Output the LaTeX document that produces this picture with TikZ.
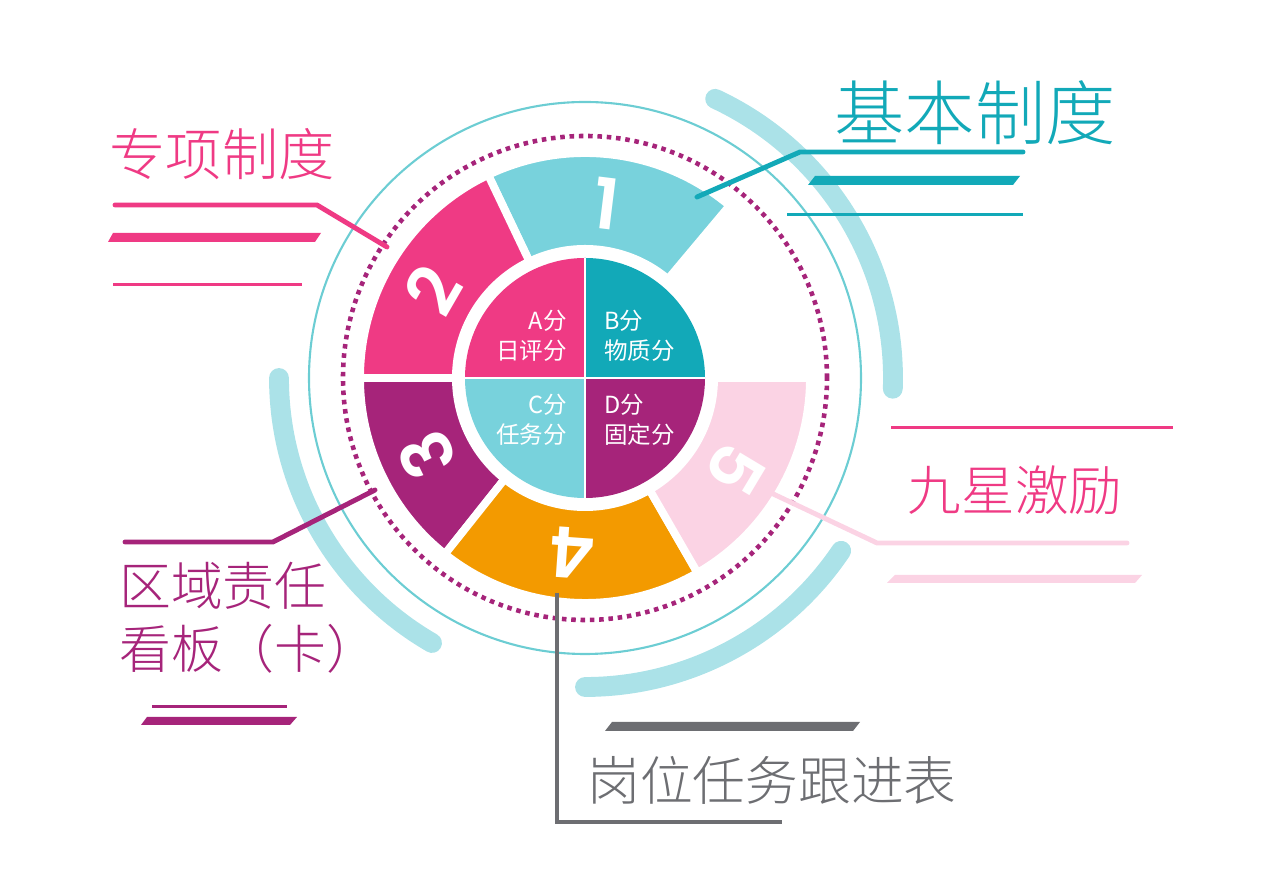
\documentclass[tikz,border=0pt]{standalone}
\usepackage{fontspec}
\IfFontExistsTF{Noto Sans CJK SC Light}
  {\setmainfont{Noto Sans CJK SC Light}}
  {\setmainfont{Noto Sans CJK SC}}
\newfontfamily\regcjk{Noto Sans CJK SC}
\IfFontExistsTF{Poppins SemiBold}
  {\newfontfamily\numfont{Poppins SemiBold}}
  {\newfontfamily\numfont{Poppins}[FakeBold=2]}
\usepackage{xcolor}
\usepackage{tikz}
\usetikzlibrary{calc}

\definecolor{tealA}{HTML}{12A9B8}
\definecolor{tealB}{HTML}{78D2DC}
\definecolor{tealC}{HTML}{ABE2E8}
\definecolor{tealD}{HTML}{6CCDD3}
\definecolor{pinkA}{HTML}{EF3A84}
\definecolor{pinkB}{HTML}{FBD3E4}
\definecolor{purpleA}{HTML}{A6247A}
\definecolor{orangeA}{HTML}{F39A00}
\definecolor{greyA}{HTML}{6D6E72}

\begin{document}
\begin{tikzpicture}[x=0.02cm,y=0.02cm,
  sector/.style={fill=#1,draw=white,line width=4.5pt,line join=miter},
  digit/.style={text=white,font=\numfont\fontsize{40}{40}\selectfont},
  ring/.style={draw=tealC,line width=11.3pt,line cap=round},
  lead/.style={draw=#1,line width=2.8pt,line cap=round,line join=round},
  hair/.style={draw=#1,line width=1.7pt},
  bigtxt/.style={text=#1,font=\fontsize{30}{36}\selectfont},
  score/.style={text=white,font=\regcjk\fontsize{13.4}{17}\selectfont}]

	\useasboundingbox (0,0) rectangle (1272,892);
	\coordinate (c) at (585,514);

	% outer rings
	\draw[ring] ($(c)+(65:308)$) arc[start angle=65,end angle=-2,radius=308];
	\draw[ring] ($(c)+(180:306)$) arc[start angle=180,end angle=240,radius=306];
	\draw[ring] ($(c)+(270:309)$) arc[start angle=270,end angle=326,radius=309];
	\draw[tealD,line width=1.2pt] (c) circle[radius=276];
	\draw[purpleA,line width=2.6pt,dash pattern=on 2.6pt off 2.7pt] (c) circle[radius=242];

	% five sectors
	\foreach \a/\b/\col/\n/\m in {50/115.5/tealB/1/83,115.5/180/pinkA/2/150,
	    180/231.5/purpleA/3/206,231.5/300/orangeA/4/266,300/360/pinkB/5/329}{
	  \draw[sector=\col] ($(c)+(\a:128)$) arc[start angle=\a,end angle=\b,radius=128]
	    -- ($(c)+(\b:225)$) arc[start angle=\b,end angle=\a,radius=225] -- cycle;
	  \node[digit,rotate=\m-90] (d\n) at ($(c)+(\m:176)$) {\n};
	}

	% inner disc
	\fill[white] (c) circle[radius=133];
	\foreach \a/\col in {90/pinkA,0/tealA,180/tealB,270/purpleA}
	  \fill[\col] (c) -- ++(\a:120) arc[start angle=\a,end angle=\a+90,radius=120] -- cycle;
	\draw[white,line width=1.2pt] ($(c)+(0,120)$) -- ($(c)+(0,-120)$);
	\draw[white,line width=1.2pt] ($(c)+(-120,0)$) -- ($(c)+(120,0)$);
	\node[score,anchor=east,align=right] (qa) at (573,556) {A分\\日评分};
	\node[score,anchor=west,align=left] (qb) at (598,556) {B分\\物质分};
	\node[score,anchor=east,align=right] (qc) at (573,472) {C分\\任务分};
	\node[score,anchor=west,align=left] (qd) at (598,472) {D分\\固定分};

	% 基本制度
	\coordinate (s1) at (697,695);
	\coordinate (e1) at (1023,740);
	\draw[lead=tealA] (s1) -- (800,740) -- (e1);
	\fill[tealA] (808,707) -- (815,716) -- (1020,716) -- (1013,707) -- cycle;
	\draw[hair=tealA] (787,677) -- (1023,677);
	\node[bigtxt=tealA,font=\fontsize{40}{40}\selectfont] (t1) at (975,779) {基本制度};

	% 专项制度
	\coordinate (s2) at (387,645);
	\coordinate (e2) at (115,687);
	\draw[lead=pinkA] (s2) -- (317,687) -- (e2);
	\fill[pinkA] (108,650) -- (113,659) -- (321,659) -- (315,650) -- cycle;
	\draw[hair=pinkA] (113,607) -- (302,607);
	\node[bigtxt=pinkA,font=\fontsize{32}{32}\selectfont] (t2) at (222,738) {专项制度};

	% 区域责任
	\coordinate (s3) at (375,402);
	\coordinate (e3) at (125,350);
	\draw[lead=purpleA] (s3) -- (273,350) -- (e3);
	\draw[hair=purpleA] (152,185) -- (287,185);
	\fill[purpleA] (141,167) -- (147,175) -- (297,175) -- (290,167) -- cycle;
	\node[bigtxt=purpleA,font=\fontsize{29.5}{35.7}\selectfont,align=left,anchor=west]
	  (t3) at (113,274) {区域责任\\看板（卡）};

	% 岗位任务跟进表
	\coordinate (s4) at (557,299);
	\coordinate (e4) at (782,70);
	\draw[lead=greyA,line cap=butt,line join=miter] (s4) -- (557,70) -- (e4);
	\fill[greyA] (605,161) -- (612,170) -- (860,170) -- (853,161) -- cycle;
	\node[bigtxt=greyA] (t4) at (772,112) {岗位任务跟进表};

	% 九星激励
	\coordinate (s5) at (769,400);
	\coordinate (e5) at (1127,349);
	\draw[lead=pinkB] (s5) -- (877,349) -- (e5);
	\draw[hair=pinkA] (891,464) -- (1173,464);
	\fill[pinkB] (887,309) -- (895,317) -- (1142,317) -- (1135,309) -- cycle;
	\node[bigtxt=pinkA,font=\fontsize{30.5}{30.5}\selectfont] (t5) at (1015,402) {九星激励};
\end{tikzpicture}
\end{document}
